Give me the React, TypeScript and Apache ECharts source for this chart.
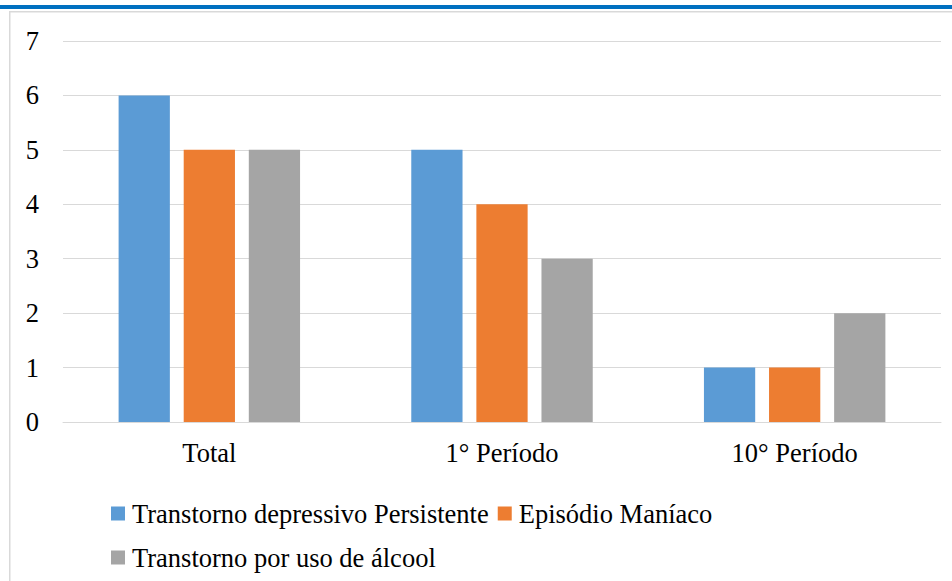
import React, { useEffect, useRef } from "react";
import * as echarts from "echarts";

const categories = ["Total", "1° Período", "10° Período"];
const seriesNames = [
  "Transtorno depressivo Persistente",
  "Episódio Maníaco",
  "Transtorno por uso de álcool",
];
const depressivo = [6, 5, 1];
const maniaco = [5, 4, 1];
const alcool = [5, 3, 2];
const colors = ["#5b9bd5", "#ed7d31", "#a5a5a5"];

const FONT = "Liberation Serif";
const FS = 26.5;

export default function App() {
  const ref = useRef<HTMLDivElement>(null);
  useEffect(() => {
    if (!ref.current) return;
    const chart = echarts.init(ref.current, null, { renderer: "svg" });
    const values = [depressivo, maniaco, alcool];
    const legendText = { fontFamily: FONT, fontSize: FS, fontWeight: "normal", color: "#000000", padding: [0, 0, 0, 2] };
    chart.setOption({
      animation: false,
      backgroundColor: "#ffffff",
      textStyle: { fontFamily: FONT, fontSize: FS },
      grid: { left: 63, right: 11, top: 41, bottom: 159, containLabel: false },
      graphic: [
        { type: "rect", shape: { x: 0, y: 5, width: 952, height: 4 }, style: { fill: "#0070c0" }, silent: true },
        { type: "rect", shape: { x: 9, y: 11, width: 943, height: 1.5 }, style: { fill: "#d9d9d9" }, silent: true },
        { type: "rect", shape: { x: 9, y: 11, width: 1.5, height: 570 }, style: { fill: "#d9d9d9" }, silent: true },
      ],
      legend: [
        {
          data: [seriesNames[0], seriesNames[1]],
          left: 106,
          top: 495,
          orient: "horizontal",
          itemWidth: 14,
          itemHeight: 14,
          itemGap: 9,
          icon: "rect",
          textStyle: legendText,
        },
        {
          data: [seriesNames[2]],
          left: 106,
          top: 539,
          orient: "horizontal",
          itemWidth: 14,
          itemHeight: 14,
          itemGap: 9,
          icon: "rect",
          textStyle: legendText,
        },
      ],
      xAxis: {
        type: "category",
        data: categories,
        axisLine: { show: true, lineStyle: { color: "#d9d9d9", width: 1 } },
        axisTick: { show: false },
        axisLabel: { fontFamily: FONT, fontSize: FS, fontWeight: "normal", color: "#000000", margin: 17 },
      },
      yAxis: {
        type: "value",
        min: 0,
        max: 7,
        interval: 1,
        axisLine: { show: false },
        axisTick: { show: false },
        axisLabel: { fontFamily: FONT, fontSize: FS, fontWeight: "normal", color: "#000000", margin: 24 },
        splitLine: { lineStyle: { color: "#d9d9d9", width: 1 } },
      },
      series: seriesNames.map((name, i) => ({
        name,
        type: "bar",
        data: values[i],
        barGap: "27%",
        barCategoryGap: "38%",
        itemStyle: { color: colors[i] },
      })),
    });
    return () => chart.dispose();
  }, []);
  return (
    <div
      ref={ref}
      style={{ position: "fixed", left: 0, top: 0, width: 952, height: 581 }}
    />
  );
}
